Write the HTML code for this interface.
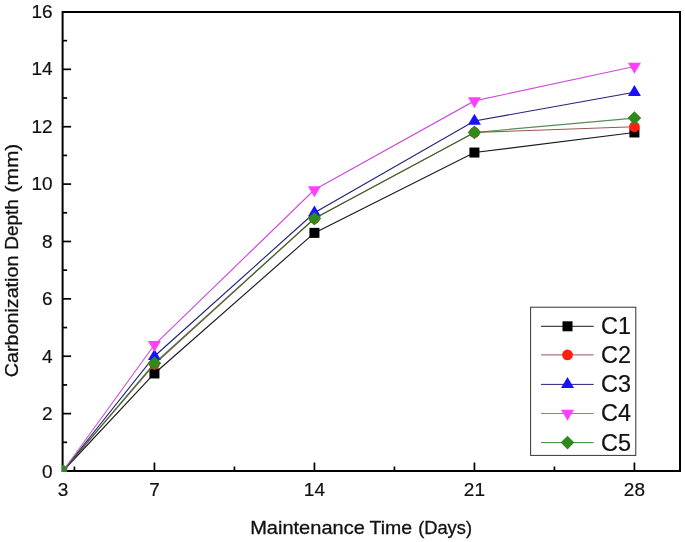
<!DOCTYPE html>
<html><head><meta charset="utf-8"><title>Carbonization Depth</title>
<style>
html,body{margin:0;padding:0;background:#fff;}
body{width:685px;height:542px;overflow:hidden;}
svg{display:block;transform:translateZ(0);will-change:transform;}
text{font-family:"Liberation Sans",sans-serif;fill:#111;stroke:#111;stroke-width:0.2px;}
.tk{font-size:19.0px;}
.lg{font-size:23.4px;}
.ti{font-size:18.5px;stroke-width:0.3px;}
</style></head><body>
<svg width="685" height="542" viewBox="0 0 685 542">
<rect x="0" y="0" width="685" height="542" fill="#ffffff"/>

<rect x="62.6" y="12.0" width="617.4" height="459.0" fill="none" stroke="#000" stroke-width="2"/>
<line x1="62.6" y1="442.31" x2="67.1" y2="442.31" stroke="#000" stroke-width="1.7"/>
<line x1="62.6" y1="413.62" x2="71.1" y2="413.62" stroke="#000" stroke-width="1.7"/>
<line x1="62.6" y1="384.93" x2="67.1" y2="384.93" stroke="#000" stroke-width="1.7"/>
<line x1="62.6" y1="356.24" x2="71.1" y2="356.24" stroke="#000" stroke-width="1.7"/>
<line x1="62.6" y1="327.55" x2="67.1" y2="327.55" stroke="#000" stroke-width="1.7"/>
<line x1="62.6" y1="298.86" x2="71.1" y2="298.86" stroke="#000" stroke-width="1.7"/>
<line x1="62.6" y1="270.17" x2="67.1" y2="270.17" stroke="#000" stroke-width="1.7"/>
<line x1="62.6" y1="241.48" x2="71.1" y2="241.48" stroke="#000" stroke-width="1.7"/>
<line x1="62.6" y1="212.79" x2="67.1" y2="212.79" stroke="#000" stroke-width="1.7"/>
<line x1="62.6" y1="184.10" x2="71.1" y2="184.10" stroke="#000" stroke-width="1.7"/>
<line x1="62.6" y1="155.41" x2="67.1" y2="155.41" stroke="#000" stroke-width="1.7"/>
<line x1="62.6" y1="126.72" x2="71.1" y2="126.72" stroke="#000" stroke-width="1.7"/>
<line x1="62.6" y1="98.03" x2="67.1" y2="98.03" stroke="#000" stroke-width="1.7"/>
<line x1="62.6" y1="69.34" x2="71.1" y2="69.34" stroke="#000" stroke-width="1.7"/>
<line x1="62.6" y1="40.65" x2="67.1" y2="40.65" stroke="#000" stroke-width="1.7"/>
<text class="tk" x="52.6" y="477.70" text-anchor="end">0</text>
<text class="tk" x="52.6" y="420.18" text-anchor="end">2</text>
<text class="tk" x="52.6" y="362.66" text-anchor="end">4</text>
<text class="tk" x="52.6" y="305.14" text-anchor="end">6</text>
<text class="tk" x="52.6" y="247.62" text-anchor="end">8</text>
<text class="tk" x="52.6" y="190.10" text-anchor="end">10</text>
<text class="tk" x="52.6" y="132.58" text-anchor="end">12</text>
<text class="tk" x="52.6" y="75.06" text-anchor="end">14</text>
<text class="tk" x="52.6" y="17.54" text-anchor="end">16</text>
<line x1="154.43" y1="471.0" x2="154.43" y2="462.5" stroke="#000" stroke-width="1.7"/>
<line x1="314.43" y1="471.0" x2="314.43" y2="462.5" stroke="#000" stroke-width="1.7"/>
<line x1="474.43" y1="471.0" x2="474.43" y2="462.5" stroke="#000" stroke-width="1.7"/>
<line x1="634.42" y1="471.0" x2="634.42" y2="462.5" stroke="#000" stroke-width="1.7"/>
<line x1="74.43" y1="471.0" x2="74.43" y2="466.5" stroke="#000" stroke-width="1.7"/>
<line x1="234.43" y1="471.0" x2="234.43" y2="466.5" stroke="#000" stroke-width="1.7"/>
<line x1="394.43" y1="471.0" x2="394.43" y2="466.5" stroke="#000" stroke-width="1.7"/>
<line x1="554.43" y1="471.0" x2="554.43" y2="466.5" stroke="#000" stroke-width="1.7"/>
<text class="tk" x="63.00" y="496.4" text-anchor="middle">3</text>
<text class="tk" x="154.43" y="496.4" text-anchor="middle">7</text>
<text class="tk" x="314.43" y="496.4" text-anchor="middle">14</text>
<text class="tk" x="474.43" y="496.4" text-anchor="middle">21</text>
<text class="tk" x="634.42" y="496.4" text-anchor="middle">28</text>
<defs><clipPath id="cp"><rect x="61.9" y="11" width="619.4" height="460.9"/></clipPath></defs><g clip-path="url(#cp)">
<polyline points="63.00,471.00 154.43,373.45 314.43,232.87 474.43,152.54 634.42,132.46" fill="none" stroke="#1a1a1a" stroke-width="1.15"/>
<rect x="149.43" y="368.45" width="10" height="10" fill="#000000"/>
<rect x="309.43" y="227.87" width="10" height="10" fill="#000000"/>
<rect x="469.43" y="147.54" width="10" height="10" fill="#000000"/>
<rect x="629.42" y="127.46" width="10" height="10" fill="#000000"/>
<polyline points="63.00,471.00 154.43,364.27 314.43,218.53 474.43,132.46 634.42,126.72" fill="none" stroke="#9a5555" stroke-width="1.15"/>
<circle cx="154.43" cy="364.27" r="5.4" fill="#ff2010"/>
<circle cx="314.43" cy="218.53" r="5.4" fill="#ff2010"/>
<circle cx="474.43" cy="132.46" r="5.4" fill="#ff2010"/>
<circle cx="634.42" cy="126.72" r="5.4" fill="#ff2010"/>
<polyline points="63.00,471.00 154.43,356.24 314.43,212.79 474.43,120.98 634.42,92.29" fill="none" stroke="#23237a" stroke-width="1.15"/>
<polygon points="154.43,348.91 160.93,359.91 147.93,359.91" fill="#1a10ff"/>
<polygon points="314.43,205.46 320.93,216.46 307.93,216.46" fill="#1a10ff"/>
<polygon points="474.43,113.65 480.93,124.65 467.93,124.65" fill="#1a10ff"/>
<polygon points="634.42,84.96 640.92,95.96 627.92,95.96" fill="#1a10ff"/>
<polyline points="63.00,471.00 154.43,344.76 314.43,189.84 474.43,100.90 634.42,66.47" fill="none" stroke="#cc50d8" stroke-width="1.15"/>
<polygon points="154.43,352.10 160.93,341.10 147.93,341.10" fill="#ff40ff"/>
<polygon points="314.43,197.17 320.93,186.17 307.93,186.17" fill="#ff40ff"/>
<polygon points="474.43,108.23 480.93,97.23 467.93,97.23" fill="#ff40ff"/>
<polygon points="634.42,73.80 640.92,62.80 627.92,62.80" fill="#ff40ff"/>
<polyline points="63.00,471.00 154.43,363.13 314.43,218.53 474.43,132.46 634.42,118.11" fill="none" stroke="#1a6a1a" stroke-width="1.15" stroke-opacity="0.75"/>
<polygon points="154.43,356.23 161.23,363.13 154.43,370.03 147.63,363.13" fill="#2f8a1e"/>
<polygon points="314.43,211.63 321.23,218.53 314.43,225.43 307.63,218.53" fill="#2f8a1e"/>
<polygon points="474.43,125.56 481.23,132.46 474.43,139.36 467.63,132.46" fill="#2f8a1e"/>
<polygon points="634.42,111.21 641.22,118.11 634.42,125.01 627.62,118.11" fill="#2f8a1e"/>
<polygon points="66.6,466.2 68.2,467.6 67,469" fill="#ff40ff"/><polygon points="61.8,465 64.4,465.2 67,468.6 67,472 61.8,472" fill="#2f8a1e"/>
</g>
<rect x="530.6" y="307.2" width="105.2" height="148.2" fill="#fff" stroke="#333" stroke-width="1"/>
<line x1="541" y1="326.3" x2="593.7" y2="326.3" stroke="#1a1a1a" stroke-width="1"/>
<rect x="562.50" y="321.30" width="10" height="10" fill="#000000"/>
<text class="lg" x="601" y="334.20">C1</text>
<line x1="541" y1="354.9" x2="593.7" y2="354.9" stroke="#9a5555" stroke-width="1"/>
<circle cx="567.50" cy="354.90" r="5.4" fill="#ff2010"/>
<text class="lg" x="601" y="362.80">C2</text>
<line x1="541" y1="384.4" x2="593.7" y2="384.4" stroke="#23237a" stroke-width="1"/>
<polygon points="567.50,377.07 574.00,388.07 561.00,388.07" fill="#1a10ff"/>
<text class="lg" x="601" y="392.30">C3</text>
<line x1="541" y1="413.5" x2="593.7" y2="413.5" stroke="#cc50d8" stroke-width="1"/>
<polygon points="567.50,420.83 574.00,409.83 561.00,409.83" fill="#ff40ff"/>
<text class="lg" x="601" y="421.40">C4</text>
<line x1="541" y1="442.6" x2="593.7" y2="442.6" stroke="#3a8a3a" stroke-width="1"/>
<polygon points="567.50,435.70 574.30,442.60 567.50,449.50 560.70,442.60" fill="#2f8a1e"/>
<text class="lg" x="601" y="450.50">C5</text>
<text class="ti" x="250.2" y="533.6" textLength="114.6" lengthAdjust="spacingAndGlyphs">Maintenance</text>
<text class="ti" x="369.6" y="533.6" textLength="42.6" lengthAdjust="spacingAndGlyphs">Time</text>
<text class="ti" x="418.2" y="533.6" textLength="53.8" lengthAdjust="spacingAndGlyphs">(Days)</text>
<text class="ti" transform="translate(18.1,377.2) rotate(-90)" x="0" y="0" textLength="121.6" lengthAdjust="spacingAndGlyphs">Carbonization</text>
<text class="ti" transform="translate(18.1,249.8) rotate(-90)" x="0" y="0" textLength="50.6" lengthAdjust="spacingAndGlyphs">Depth</text>
<text class="ti" transform="translate(18.1,192.4) rotate(-90)" x="0" y="0" textLength="48.6" lengthAdjust="spacingAndGlyphs">(mm)</text>
</svg></body></html>
